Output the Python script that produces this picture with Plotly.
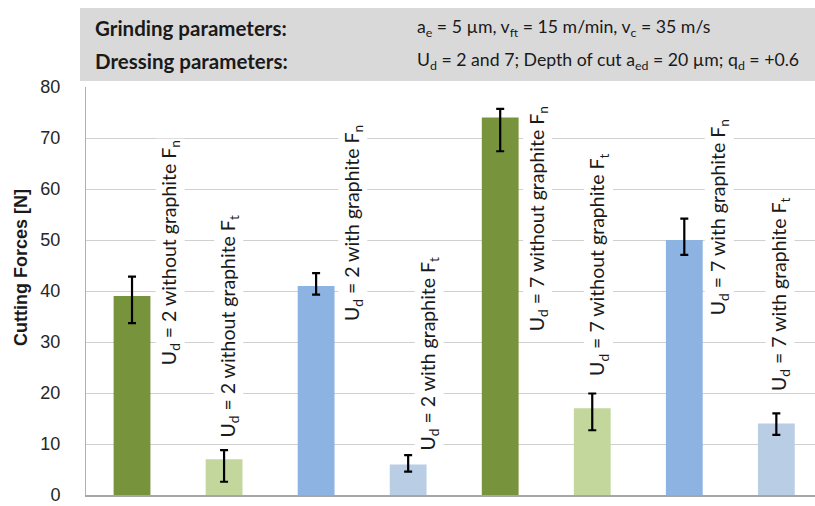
import plotly.graph_objects as go

# Measured cutting forces (mean) with the upper / lower ends of the scatter band
categories = [
    "Ud2 without graphite Fn", "Ud2 without graphite Ft",
    "Ud2 with graphite Fn", "Ud2 with graphite Ft",
    "Ud7 without graphite Fn", "Ud7 without graphite Ft",
    "Ud7 with graphite Fn", "Ud7 with graphite Ft",
]
forces = [39, 7, 41, 6, 74, 17, 50, 14]
force_upper = [42.8, 8.8, 43.5, 7.8, 75.7, 19.9, 54.2, 16.0]
force_lower = [33.7, 2.6, 39.3, 4.6, 67.4, 12.7, 47.1, 11.8]

bar_labels = [
    "U<sub>d</sub> = 2 without graphite F<sub>n</sub>",
    "U<sub>d</sub> = 2 without graphite F<sub>t</sub>",
    "U<sub>d</sub> = 2 with graphite F<sub>n</sub>",
    "U<sub>d</sub> = 2 with graphite F<sub>t</sub>",
    "U<sub>d</sub> = 7 without graphite F<sub>n</sub>",
    "U<sub>d</sub> = 7 without graphite F<sub>t</sub>",
    "U<sub>d</sub> = 7 with graphite F<sub>n</sub>",
    "U<sub>d</sub> = 7 with graphite F<sub>t</sub>",
]
y_ticks = [0, 10, 20, 30, 40, 50, 60, 70, 80]

# Layout of the rotated data labels: (x offset from the bar, start height)
label_dx = [0.42, 0.05, 0.40, 0.23, 0.41, 0.07, 0.38, 0.04]
label_y0 = [25.1, 10.8, 33.7, 8.4, 31.8, 22.9, 34.9, 20.0]

bar_colors = ["#77933c", "#c3d69b", "#8db3e2", "#b9cde5"] * 2

W, H = 815, 506
L, R, T, B = 86, 0, 87, 11
plot_w, plot_h = W - L - R, H - T - B

def px_x(px):
    return (px - L) / plot_w

def px_y(py):
    return (H - B - py) / plot_h

xpos = list(range(len(categories)))
err_plus = [u - v for u, v in zip(force_upper, forces)]
err_minus = [v - l for v, l in zip(forces, force_lower)]

fig = go.Figure()
fig.add_trace(go.Bar(
    x=xpos, y=forces, width=0.40,
    marker=dict(color=bar_colors, line=dict(width=0)),
    error_y=dict(type="data", symmetric=False, array=err_plus, arrayminus=err_minus,
                 color="#000000", thickness=2.2, width=4),
    hoverinfo="skip",
))

label_font = dict(family="Lato, Carlito, Calibri, sans-serif", size=19.5, color="#1a1a1a")
for i, txt in enumerate(bar_labels):
    fig.add_annotation(
        x=xpos[i] + label_dx[i], y=label_y0[i], xref="x", yref="y",
        text=txt, textangle=-90, showarrow=False,
        xanchor="center", yanchor="bottom",
        font=label_font, bgcolor="#ffffff", borderpad=1,
    )

# Parameter box above the plot area
fig.add_shape(type="rect", xref="paper", yref="paper",
              x0=px_x(80), x1=px_x(816), y0=px_y(81), y1=px_y(8),
              fillcolor="#d9d9d9", line=dict(width=0), layer="below")

head_bold = dict(family="Lato, Carlito, Calibri, sans-serif", size=20.5, color="#1a1a1a")
head_font = dict(family="Lato, Carlito, Calibri, sans-serif", size=17.7, color="#1a1a1a")
rows = [
    ("<b>Grinding parameters:</b>",
     "a<sub>e</sub> = 5 µm, v<sub>ft</sub> = 15 m/min, v<sub>c</sub> = 35 m/s", 28),
    ("<b>Dressing parameters:</b>",
     "U<sub>d</sub> = 2 and 7; Depth of cut a<sub>ed</sub> = 20 µm; q<sub>d</sub> = +0.6", 61),
]
for left, right, py in rows:
    fig.add_annotation(x=px_x(93), y=px_y(py), xref="paper", yref="paper",
                       text=left, showarrow=False, xanchor="left", yanchor="middle",
                       font=head_bold)
    fig.add_annotation(x=px_x(415), y=px_y(py), xref="paper", yref="paper",
                       text=right, showarrow=False, xanchor="left", yanchor="middle",
                       font=head_font)

# Y-axis title
fig.add_annotation(x=px_x(21), y=px_y(268), xref="paper", yref="paper",
                   text="<b>Cutting Forces [N]</b>", textangle=-90, showarrow=False,
                   xanchor="center", yanchor="middle",
                   font=dict(family="Liberation Sans, Arial, sans-serif", size=18, color="#1a1a1a"))

fig.update_layout(
    width=W, height=H,
    margin=dict(l=L, r=R, t=T, b=B, pad=0),
    paper_bgcolor="#ffffff", plot_bgcolor="#ffffff",
    showlegend=False, bargap=0.6,
    xaxis=dict(range=[-0.5, 7.42], showticklabels=False, ticks="", showgrid=False,
               zeroline=False, showline=True, linecolor="#a6a6a6", linewidth=1.5,
               fixedrange=True),
    yaxis=dict(range=[0, 80], tickvals=y_ticks, ticks="", showgrid=True,
               gridcolor="#d0d0d0", gridwidth=1, zeroline=False,
               showline=True, linecolor="#b0b0b0", linewidth=1,
               tickfont=dict(family="Liberation Sans, Arial, sans-serif", size=18, color="#262626"),
               ticklabelstandoff=21, fixedrange=True),
)

fig.write_html("out.html")
